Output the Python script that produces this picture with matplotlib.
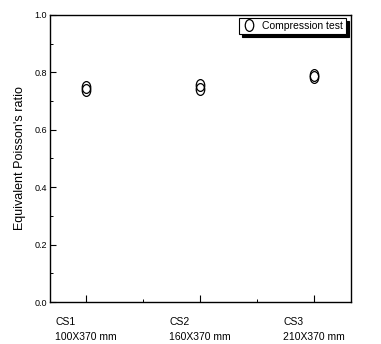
import matplotlib
matplotlib.use("Agg")
import matplotlib.pyplot as plt
from matplotlib.path import Path
from matplotlib.transforms import Affine2D
from matplotlib.ticker import MultipleLocator, FixedLocator

plt.rcParams['font.family'] = ['Liberation Sans', 'DejaVu Sans']

# Specimens and measured equivalent Poisson's ratios (two specimens each)
specimens = ["CS1", "CS2", "CS3"]
sizes = ["100X370 mm", "160X370 mm", "210X370 mm"]
positions = [1, 2, 3]
ratio_a = [0.748, 0.755, 0.791]
ratio_b = [0.737, 0.743, 0.785]

# Tall open ellipse marker
oval = Path.unit_circle().transformed(Affine2D().scale(0.72, 1.0))

fig = plt.figure(figsize=(3.81, 3.44), dpi=100)
ax = fig.add_axes([50/381, 1 - 302/344, 301/381, 287/344])

xs = positions + positions
ys = ratio_a + ratio_b
ax.plot(xs, ys, linestyle='none', marker=oval, markersize=8.5,
        markerfacecolor='none', markeredgecolor='black', markeredgewidth=0.9,
        label='Compression test')

ax.set_xlim(0.685, 3.325)
ax.set_ylim(0.0, 1.0)

ax.yaxis.set_major_locator(MultipleLocator(0.2))
ax.yaxis.set_minor_locator(MultipleLocator(0.1))
ax.set_yticklabels([f"{v:.1f}" for v in ax.get_yticks()])
ax.xaxis.set_major_locator(FixedLocator(positions))
ax.xaxis.set_minor_locator(FixedLocator([1.5, 2.5]))
ax.set_xticklabels([f"{s}\n{z}" for s, z in zip(specimens, sizes)],
                   multialignment='left', linespacing=1.6)

ax.tick_params(axis='both', which='major', direction='in', length=4, width=0.8,
               labelsize=6.5, top=False, right=False)
ax.tick_params(axis='x', which='major', pad=11, labelsize=7.5, length=5)
ax.tick_params(axis='both', which='minor', direction='in', length=2.5, width=0.7,
               top=False, right=False)
ax.tick_params(axis='y', which='major', pad=2)

for sp in ax.spines.values():
    sp.set_linewidth(1.0)
    sp.set_color('black')

ax.set_ylabel("Equivalent Poisson's ratio", fontsize=9, labelpad=6)

leg = ax.legend(loc='upper right', bbox_to_anchor=(346/381, 1 - 18/344),
                bbox_transform=fig.transFigure, borderaxespad=0,
                frameon=True, fancybox=False, shadow={'color': 'black', 'alpha': 1},
                edgecolor='black', framealpha=1, fontsize=7.5,
                handlelength=1.4, handletextpad=0.5, borderpad=0.3,
                markerscale=1.0)
leg.get_frame().set_linewidth(0.8)

fig.savefig("out.png", dpi=100)
